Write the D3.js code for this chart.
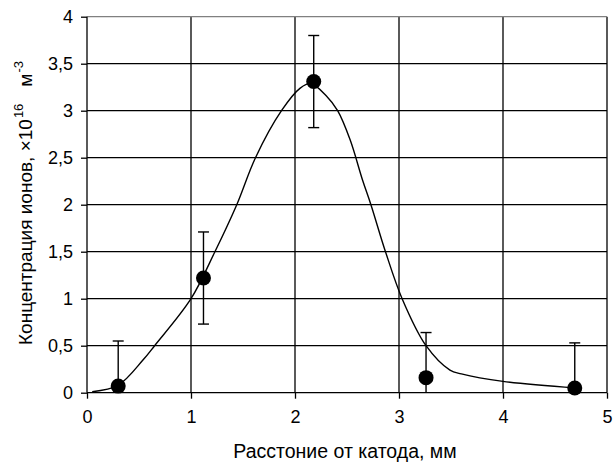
<!DOCTYPE html>
<html>
<head>
<meta charset="utf-8">
<script src="https://cdn.jsdelivr.net/npm/d3@7"></script>
<style>
	body { margin: 0; background: #fff; }
	text { font-family: "Liberation Sans", Arial, sans-serif; fill: #000; }
</style>
</head>
<body>
<svg id="chart" width="615" height="466"></svg>
<script>
// measured points
var pointX = [0.3, 1.12, 2.18, 3.26, 4.69];
var pointY = [0.07, 1.22, 3.31, 0.16, 0.05];
var pointErr = [0.48, 0.49, 0.49, 0.48, 0.48];

// fitted curve
var curveX = [0.05, 0.3, 0.54, 0.65, 1.0, 1.23, 1.44, 1.62, 1.87, 2.05, 2.15, 2.3, 2.41, 2.53, 2.65, 2.73, 2.87, 3.03, 3.26, 3.49, 3.6, 4.0, 4.7];
var curveY = [0.01, 0.08, 0.35, 0.5, 1.0, 1.5, 2.0, 2.5, 3.0, 3.24, 3.29, 3.16, 3.0, 2.69, 2.26, 2.0, 1.5, 1.0, 0.5, 0.24, 0.2, 0.12, 0.05];

// ticks
var xTicks = [0, 1, 2, 3, 4, 5];
var yTicks = [0, 0.5, 1, 1.5, 2, 2.5, 3, 3.5, 4];

var svg = d3.select("#chart");
var pLeft = 87, pRight = 607, pTop = 16.7, pBottom = 392.7;
var fontSize = 18;

var x = d3.scaleLinear().domain([0, 5]).range([pLeft, pRight]);
var y = d3.scaleLinear().domain([0, 4]).range([pBottom, pTop]);

var fmt = function(d) { return String(d).replace(".", ","); };

// grid
svg.append("g").selectAll("line").data(xTicks.slice(1)).enter().append("line")
	.attr("x1", function(d) { return x(d); }).attr("x2", function(d) { return x(d); })
	.attr("y1", pTop).attr("y2", pBottom)
	.attr("stroke", "#000").attr("stroke-width", 1.3);
svg.append("g").selectAll("line").data(yTicks.slice(1, -1)).enter().append("line")
	.attr("x1", pLeft).attr("x2", pRight)
	.attr("y1", function(d) { return y(d); }).attr("y2", function(d) { return y(d); })
	.attr("stroke", "#000").attr("stroke-width", 1.3);
// top border gray
svg.append("line").attr("x1", pLeft).attr("x2", pRight).attr("y1", y(4)).attr("y2", y(4))
	.attr("stroke", "#808080").attr("stroke-width", 1.3);

// axes
var xAxis = d3.axisBottom(x).tickValues(xTicks).tickSize(6).tickPadding(12).tickFormat(fmt);
var yAxis = d3.axisLeft(y).tickValues(yTicks).tickSize(6).tickPadding(8).tickFormat(fmt);
var gx = svg.append("g").attr("transform", "translate(0," + pBottom + ")").call(xAxis);
var gy = svg.append("g").attr("transform", "translate(" + pLeft + ",0)").call(yAxis);
[gx, gy].forEach(function(g) {
	g.select(".domain").remove();
	g.selectAll("line").attr("stroke", "#000").attr("stroke-width", 1.3);
	g.selectAll("text").attr("font-size", fontSize).attr("font-family", "Liberation Sans, Arial, sans-serif").attr("fill", "#000");
});
svg.append("line").attr("x1", pLeft).attr("x2", pLeft).attr("y1", pTop).attr("y2", pBottom).attr("stroke", "#000").attr("stroke-width", 1.3);
svg.append("line").attr("x1", pLeft).attr("x2", pRight).attr("y1", pBottom).attr("y2", pBottom).attr("stroke", "#000").attr("stroke-width", 1.3);

// curve
var curveData = curveX.map(function(d, i) { return [d, curveY[i]]; });
svg.append("path").datum(curveData)
	.attr("d", d3.line().x(function(d) { return x(d[0]); }).y(function(d) { return y(d[1]); }).curve(d3.curveCatmullRom.alpha(0.5)))
	.attr("fill", "none").attr("stroke", "#000").attr("stroke-width", 1.4);

// error bars
var pts = pointX.map(function(d, i) { return { x: d, y: pointY[i], e: pointErr[i] }; });
var eb = svg.append("g").selectAll("g").data(pts).enter().append("g");
eb.append("line")
	.attr("x1", function(d) { return x(d.x); }).attr("x2", function(d) { return x(d.x); })
	.attr("y1", function(d) { return y(Math.max(0, d.y - d.e)); })
	.attr("y2", function(d) { return y(d.y + d.e); })
	.attr("stroke", "#000").attr("stroke-width", 1.4);
eb.append("line")
	.attr("x1", function(d) { return x(d.x) - 5.5; }).attr("x2", function(d) { return x(d.x) + 5.5; })
	.attr("y1", function(d) { return y(d.y + d.e); }).attr("y2", function(d) { return y(d.y + d.e); })
	.attr("stroke", "#000").attr("stroke-width", 1.4);
eb.filter(function(d) { return d.y - d.e > 0; }).append("line")
	.attr("x1", function(d) { return x(d.x) - 5.5; }).attr("x2", function(d) { return x(d.x) + 5.5; })
	.attr("y1", function(d) { return y(d.y - d.e); }).attr("y2", function(d) { return y(d.y - d.e); })
	.attr("stroke", "#000").attr("stroke-width", 1.4);

// markers
svg.append("g").selectAll("circle").data(pts).enter().append("circle")
	.attr("cx", function(d) { return x(d.x); }).attr("cy", function(d) { return y(d.y); })
	.attr("r", 7.5).attr("fill", "#000");

// axis titles
svg.append("text").attr("x", 345).attr("y", 458)
	.attr("text-anchor", "middle").attr("font-size", 19.5)
	.text("Расстоние от катода, мм");

var yt = svg.append("text").attr("transform", "translate(32,345) rotate(-90)")
	.attr("text-anchor", "start").attr("font-size", 19);
yt.append("tspan").text("Концентрация ионов, ×10");
yt.append("tspan").attr("font-size", 13).attr("dx", 1).attr("dy", -9).text("16");
yt.append("tspan").attr("dx", 17).attr("dy", 9).text("м");
yt.append("tspan").attr("font-size", 13).attr("dx", 1).attr("dy", -9).text("-3");
</script>
</body>
</html>
